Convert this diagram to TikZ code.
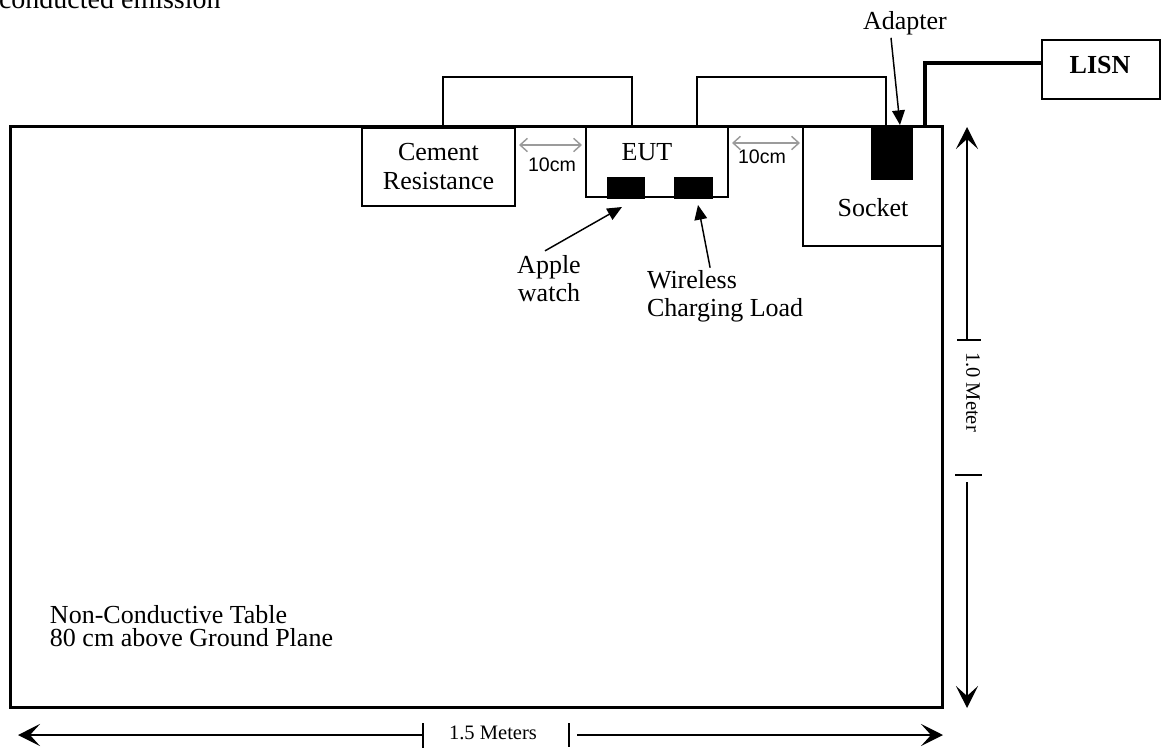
\documentclass[tikz,border=0pt]{standalone}
\usepackage{fontspec}
\setmainfont{Liberation Serif}
\newfontfamily\arialfont{Liberation Sans}
\usetikzlibrary{arrows.meta,calc}
\definecolor{arrgray}{RGB}{155,155,155}
\begin{document}
\begin{tikzpicture}[x=0.75pt,y=-0.75pt,
  box/.style={draw, line width=1.1pt, inner sep=0pt, outer sep=0pt, rectangle},
  blk/.style={fill=black, draw=black, line width=0.5pt, inner sep=0pt, outer sep=0pt, rectangle},
  lbl/.style={inner sep=0pt, outer sep=0pt, font=\fontsize{19.5}{21}\selectfont},
  cable/.style={line width=1.1pt},
  pwr/.style={line width=2.4pt},
  gap/.style={draw=arrgray, line width=1.1pt, {Straight Barb[length=5.5pt,width=10pt]}-{Straight Barb[length=5.5pt,width=10pt]}},
  ptr/.style={line width=1.1pt, -{Triangle[length=11pt,width=9.5pt]}},
  dim/.style={line width=1.1pt, -{Stealth[length=16.5pt,width=16.5pt,inset=7.5pt]}},
  tickmark/.style={line width=1.6pt},
]
\clip (0,0) rectangle (1161,749);

% title (cut off at top)
\node[lbl, anchor=base west, font=\fontsize{21}{23}\selectfont] (title) at (-1,8.5) {conducted emission};

% table
\node[box, line width=2.25pt, minimum width=699pt, minimum height=435pt] (table) at (476,417) {};

% boxes
\node[box, minimum width=114.75pt, minimum height=58.5pt, align=center, font=\fontsize{19.5}{21.75}\selectfont] (cement) at (438.5,167) {Cement\\Resistance};
\node[box, minimum width=106.5pt, minimum height=52.5pt] (eut) at (657,162) {};
\node[lbl] (eutlbl) at (647,152) {EUT};
\node[box, minimum width=105pt, minimum height=89.25pt] (socket) at (873,186.5) {};
\node[lbl] (socketlbl) at (873,208) {Socket};
\node[blk, minimum width=30.75pt, minimum height=39pt] (adapter) at (891.5,153) {};
\node[blk, minimum width=27.75pt, minimum height=15.75pt] (watch) at (625.5,187.5) {};
\node[blk, minimum width=28.5pt, minimum height=15.75pt] (load) at (693,187.5) {};
\node[box, minimum width=88.5pt, minimum height=44.25pt] (lisn) at (1101,69.5) {};
\node[lbl, font=\fontsize{19.5}{21}\selectfont\bfseries] (lisnlbl) at (1100,65) {LISN};

% labels
\node[lbl] (adapterlbl) at (905,23) {Adapter};
\node[lbl, align=center] (watchlbl) at (549,278.5) {Apple\\watch};
\node[lbl, align=left, anchor=west] (loadlbl) at (647,296) {Wireless\\Charging Load};
\node[lbl, align=left, anchor=west, font=\fontsize{19.5}{17.6}\selectfont] (tablelbl) at (50,626) {Non-Conductive Table\\80 cm above Ground Plane};
\node[inner sep=0pt, font=\arialfont\fontsize{14.7}{16}\selectfont] (gap1lbl) at (552,165) {10cm};
\node[inner sep=0pt, font=\arialfont\fontsize{14.7}{16}\selectfont] (gap2lbl) at (762,157) {10cm};
\node[inner sep=0pt, font=\fontsize{15.4}{17}\selectfont] (hlbl) at (493,733) {1.5 Meters};
\node[inner sep=0pt, font=\fontsize{15.4}{17}\selectfont, rotate=-90] (vlbl) at (973,392) {1.0 Meter};

% cables
\draw[cable] ($(cement.north)+(4.5,0)$) |- ($(eut.north)+(-25,-50)$) -- ($(eut.north)+(-25,0)$);
\draw[cable] ($(eut.north)+(40,0)$) |- ($(adapter.north)+(-5.5,-50)$) -- ($(adapter.north)+(-5.5,0)$);
\draw[pwr] ($(socket.north)+(52,0)$) |- ($(lisn.west)+(0,-6.5)$);

% pointers
\draw[ptr] ($(adapterlbl.south)+(-14,3)$) -- ($(adapter.north)+(8.5,-2)$);
\draw[ptr] ($(watchlbl.north)+(-4,-4.5)$) -- ($(watch.south)+(-3.5,9)$);
\draw[ptr] ($(loadlbl.north)+(-15,-2.5)$) -- ($(load.south)+(5,7)$);

% 10 cm gaps
\draw[gap] ($(cement.east)+(4,-22)$) -- ($(eut.west)+(-4,-17)$);
\draw[gap] ($(eut.east)+(4,-19)$) -- ($(socket.west)+(-3,-43.5)$);

% dimensions
\coordinate (ht1) at (423,735);
\coordinate (ht2) at (569,735);
\coordinate (vt1) at (967,340);
\coordinate (vt2) at (967,475);
\draw[tickmark] ($(ht1)+(0,-12)$) -- ($(ht1)+(0,13)$);
\draw[tickmark] ($(ht2)+(0,-12)$) -- ($(ht2)+(0,12)$);
\draw[dim] (ht1) -- ($(table.south west)+(8,28)$);
\draw[dim] ($(ht2)+(8,0)$) -- ($(table.south east)+(1,28)$);
\draw[tickmark] ($(vt1)+(-10,0)$) -- ($(vt1)+(14,0)$);
\draw[tickmark] ($(vt2)+(-12,0)$) -- ($(vt2)+(15,0)$);
\draw[dim] (vt1) -- ($(table.north east)+(25,0)$);
\draw[dim] ($(vt2)+(0,7)$) -- ($(table.south east)+(25,1)$);
\end{tikzpicture}
\end{document}
